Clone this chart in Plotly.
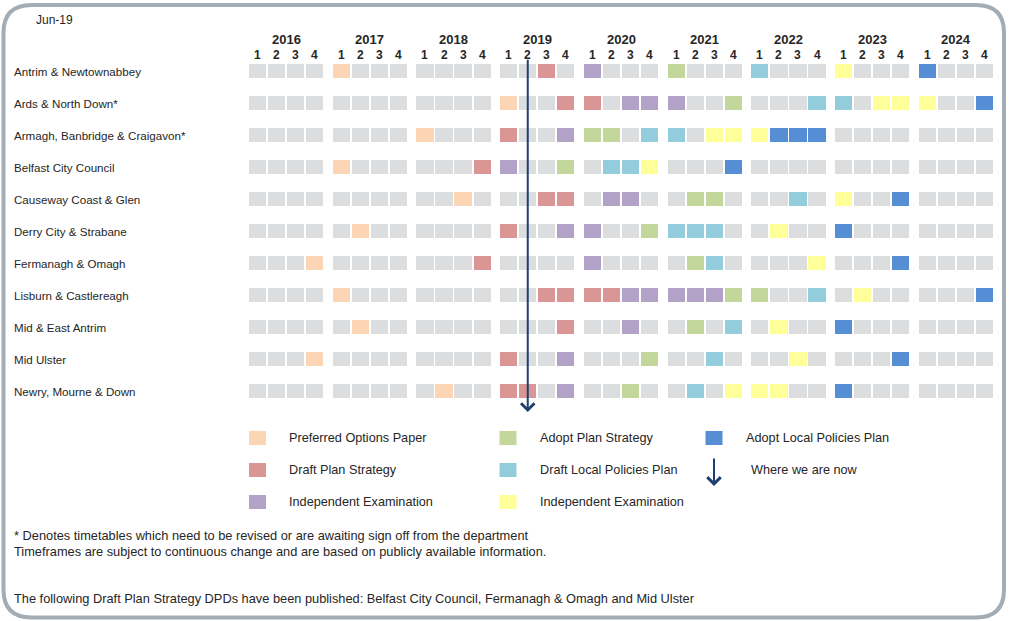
import plotly.graph_objects as go

# ---------------- data ----------------
years = ["2016", "2017", "2018", "2019", "2020", "2021", "2022", "2023", "2024"]
quarter_labels = ["1", "2", "3", "4"]

councils = [
    "Antrim & Newtownabbey",
    "Ards & North Down*",
    "Armagh, Banbridge & Craigavon*",
    "Belfast City Council",
    "Causeway Coast & Glen",
    "Derry City & Strabane",
    "Fermanagh & Omagh",
    "Lisburn & Castlereagh",
    "Mid & East Antrim",
    "Mid Ulster",
    "Newry, Mourne & Down",
]

# one 4-char block per year (2016..2024); '-' = no milestone that quarter
schedules = [
    "---- P--- ---- --D- I--- A--- L--- Y--- B---",
    "---- ---- ---- P--D D-II I--A ---L L-YY Y--B",
    "---- ---- P--- D--I AA-L L-YY YBBB ---- ----",
    "---- P--- ---D I--A -LLY ---B ---- ---- ----",
    "---- ---- --P- --DD -II- -AA- --L- Y--B ----",
    "---- -P-- ---- D--I I--A LLL- -Y-- B--- ----",
    "---P ---- ---D ---- I--- -AL- ---Y ---B ----",
    "---- P--- ---- --DD DDII IIIA A--L -Y-- ---B",
    "---- -P-- ---- ---D --I- -A-L -Y-- B--- ----",
    "---P ---- ---- D--I ---A --L- --Y- ---B ----",
    "---- ---- -P-- DD-I --A- -L-Y YY-- B--- ----",
]

stage_codes = ["P", "D", "I", "A", "L", "Y", "B"]
stage_names = [
    "Preferred Options Paper",
    "Draft Plan Strategy",
    "Independent Examination",
    "Adopt Plan Strategy",
    "Draft Local Policies Plan",
    "Independent Examination",
    "Adopt Local Policies Plan",
]
stage_colors = ["#FCD5B5", "#D99694", "#B3A2C7", "#C3D69B", "#93CDDD", "#FFFF99", "#558ED5"]
empty_color = "#DCDDDF"

now_label = "Jun-19"
now_year = "2019"
now_quarter = 2
now_legend = "Where we are now"

footnotes = [
    "* Denotes timetables which need to be revised or are awaiting sign off from the department",
    "Timeframes are subject to continuous change and are based on publicly available information.",
]
published_note = ("The following Draft Plan Strategy DPDs have been published: "
                  "Belfast City Council, Fermanagh & Omagh and Mid Ulster")

# ---------------- geometry helpers ----------------
W, H = 1012, 621
ML, MR, MT, MB = 248, 18, 55, 214
PW, PH = W - ML - MR, H - MT - MB
YEAR_STEP = 4.4
CELL_W = 0.9
CELL_H = 0.44
TXT = "#262626"
NAVY = "#1F3F6E"
FONT = "Liberation Sans, Arial, sans-serif"


def qpos(year_idx, q):
    return year_idx * YEAR_STEP + q


def px(x):
    return (x - ML) / PW


def py(y):
    return 1 - (y - MT) / PH


fig = go.Figure()

# grid cells, one trace per stage (including empty)
codes_all = ["-"] + stage_codes
colors_all = [empty_color] + stage_colors
for code, color in zip(codes_all, colors_all):
    xs, bases = [], []
    for r, sched in enumerate(schedules):
        blocks = sched.split()
        for yi, block in enumerate(blocks):
            for q, c in enumerate(block):
                if c == code:
                    xs.append(qpos(yi, q))
                    bases.append(r - CELL_H / 2)
    fig.add_trace(go.Bar(
        x=xs, y=[CELL_H] * len(xs), base=bases, width=CELL_W,
        marker=dict(color=color, line=dict(width=0)),
        hoverinfo="skip", showlegend=False,
    ))

annotations = []
# year and quarter headers
for yi, yr in enumerate(years):
    annotations.append(dict(x=qpos(yi, 1.5), y=py(39), xref="x", yref="paper", text=f"<b>{yr}</b>",
                            yanchor="middle", showarrow=False,
                            font=dict(size=13, color=TXT, family=FONT)))
    for q, ql in enumerate(quarter_labels):
        annotations.append(dict(x=qpos(yi, q), y=py(55), xref="x", yref="paper", text=f"<b>{ql}</b>",
                                yanchor="middle", showarrow=False,
                                font=dict(size=12, color=TXT, family=FONT)))

# council labels
for r, name in enumerate(councils):
    annotations.append(dict(x=px(12), y=r, xref="paper", yref="y", text=name, xanchor="left",
                            yanchor="middle", showarrow=False,
                            font=dict(size=11.6, color=TXT, family=FONT)))

# date label
annotations.append(dict(x=px(34), y=py(20), xref="paper", yref="paper", text=now_label,
                        xanchor="left", yanchor="middle", showarrow=False,
                        font=dict(size=12, color=TXT, family=FONT)))

# "where we are now" arrow
now_x = qpos(years.index(now_year), now_quarter - 1)
annotations.append(dict(x=now_x, y=len(councils) - 1 + 0.66, xref="x", yref="y",
                        ax=now_x, ay=-0.4, axref="x", ayref="y", text="",
                        showarrow=True, arrowhead=4, arrowsize=1.3, arrowwidth=2,
                        arrowcolor=NAVY, standoff=0, startstandoff=0))

# legend (3 columns)
leg_cols_x = [257.5, 508, 714]
leg_text_x = [287, 538, 744]
leg_rows_y = [438, 470, 502]
legend_slots = [(0, 0), (0, 1), (0, 2), (1, 0), (1, 1), (1, 2), (2, 0)]  # (col,row) for P,D,I,A,L,Y,B
shapes = []
for (col, row), name, color in zip(legend_slots, stage_names, stage_colors):
    cx, cy = leg_cols_x[col], leg_rows_y[row]
    shapes.append(dict(type="rect", xref="paper", yref="paper",
                       x0=px(cx - 8.5), x1=px(cx + 8.5), y0=py(cy - 7), y1=py(cy + 7),
                       fillcolor=color, line=dict(width=0)))
    annotations.append(dict(x=px(leg_text_x[col]), y=py(cy), xref="paper", yref="paper",
                            text=name, xanchor="left", yanchor="middle", showarrow=False,
                            font=dict(size=12.7, color=TXT, family=FONT)))
# legend arrow
annotations.append(dict(x=px(714), y=py(486), xref="paper", yref="paper", ax=0, ay=-29,
                        text="", showarrow=True, arrowhead=4, arrowsize=1.3, arrowwidth=2,
                        arrowcolor=NAVY, standoff=0))
annotations.append(dict(x=px(749), y=py(470), xref="paper", yref="paper", text=now_legend,
                        xanchor="left", yanchor="middle", showarrow=False,
                        font=dict(size=12.7, color=TXT, family=FONT)))

# footnotes
for text, yy in zip(footnotes + [published_note], [535, 551, 598]):
    annotations.append(dict(x=px(12), y=py(yy), xref="paper", yref="paper", text=text,
                            xanchor="left", yanchor="middle", showarrow=False,
                            font=dict(size=12.8, color=TXT, family=FONT)))

# rounded outer frame
L0, T0, R0, B0, RAD = 3.5, 5, 1004, 617.5, 28


def P(x, y):
    return f"{px(x):.5f},{py(y):.5f}"


frame = (f"M{P(L0 + RAD, T0)} L{P(R0 - RAD, T0)} Q{P(R0, T0)} {P(R0, T0 + RAD)} "
         f"L{P(R0, B0 - RAD)} Q{P(R0, B0)} {P(R0 - RAD, B0)} "
         f"L{P(L0 + RAD, B0)} Q{P(L0, B0)} {P(L0, B0 - RAD)} "
         f"L{P(L0, T0 + RAD)} Q{P(L0, T0)} {P(L0 + RAD, T0)} Z")
shapes.append(dict(type="path", xref="paper", yref="paper", path=frame,
                   line=dict(color="#A3ADB5", width=4), fillcolor="rgba(0,0,0,0)"))

fig.update_layout(
    width=W, height=H,
    margin=dict(l=ML, r=MR, t=MT, b=MB, pad=0),
    paper_bgcolor="white", plot_bgcolor="white",
    barmode="overlay", bargap=0,
    showlegend=False,
    xaxis=dict(range=[-0.5, qpos(len(years) - 1, 3) + 0.5], visible=False, fixedrange=True),
    yaxis=dict(range=[len(councils) - 0.5, -0.5], visible=False, fixedrange=True),
    annotations=annotations,
    shapes=shapes,
    font=dict(family=FONT, color=TXT),
)

fig.write_html("out.html", config={"displayModeBar": False},
               post_script="document.body.style.margin='0px';")
